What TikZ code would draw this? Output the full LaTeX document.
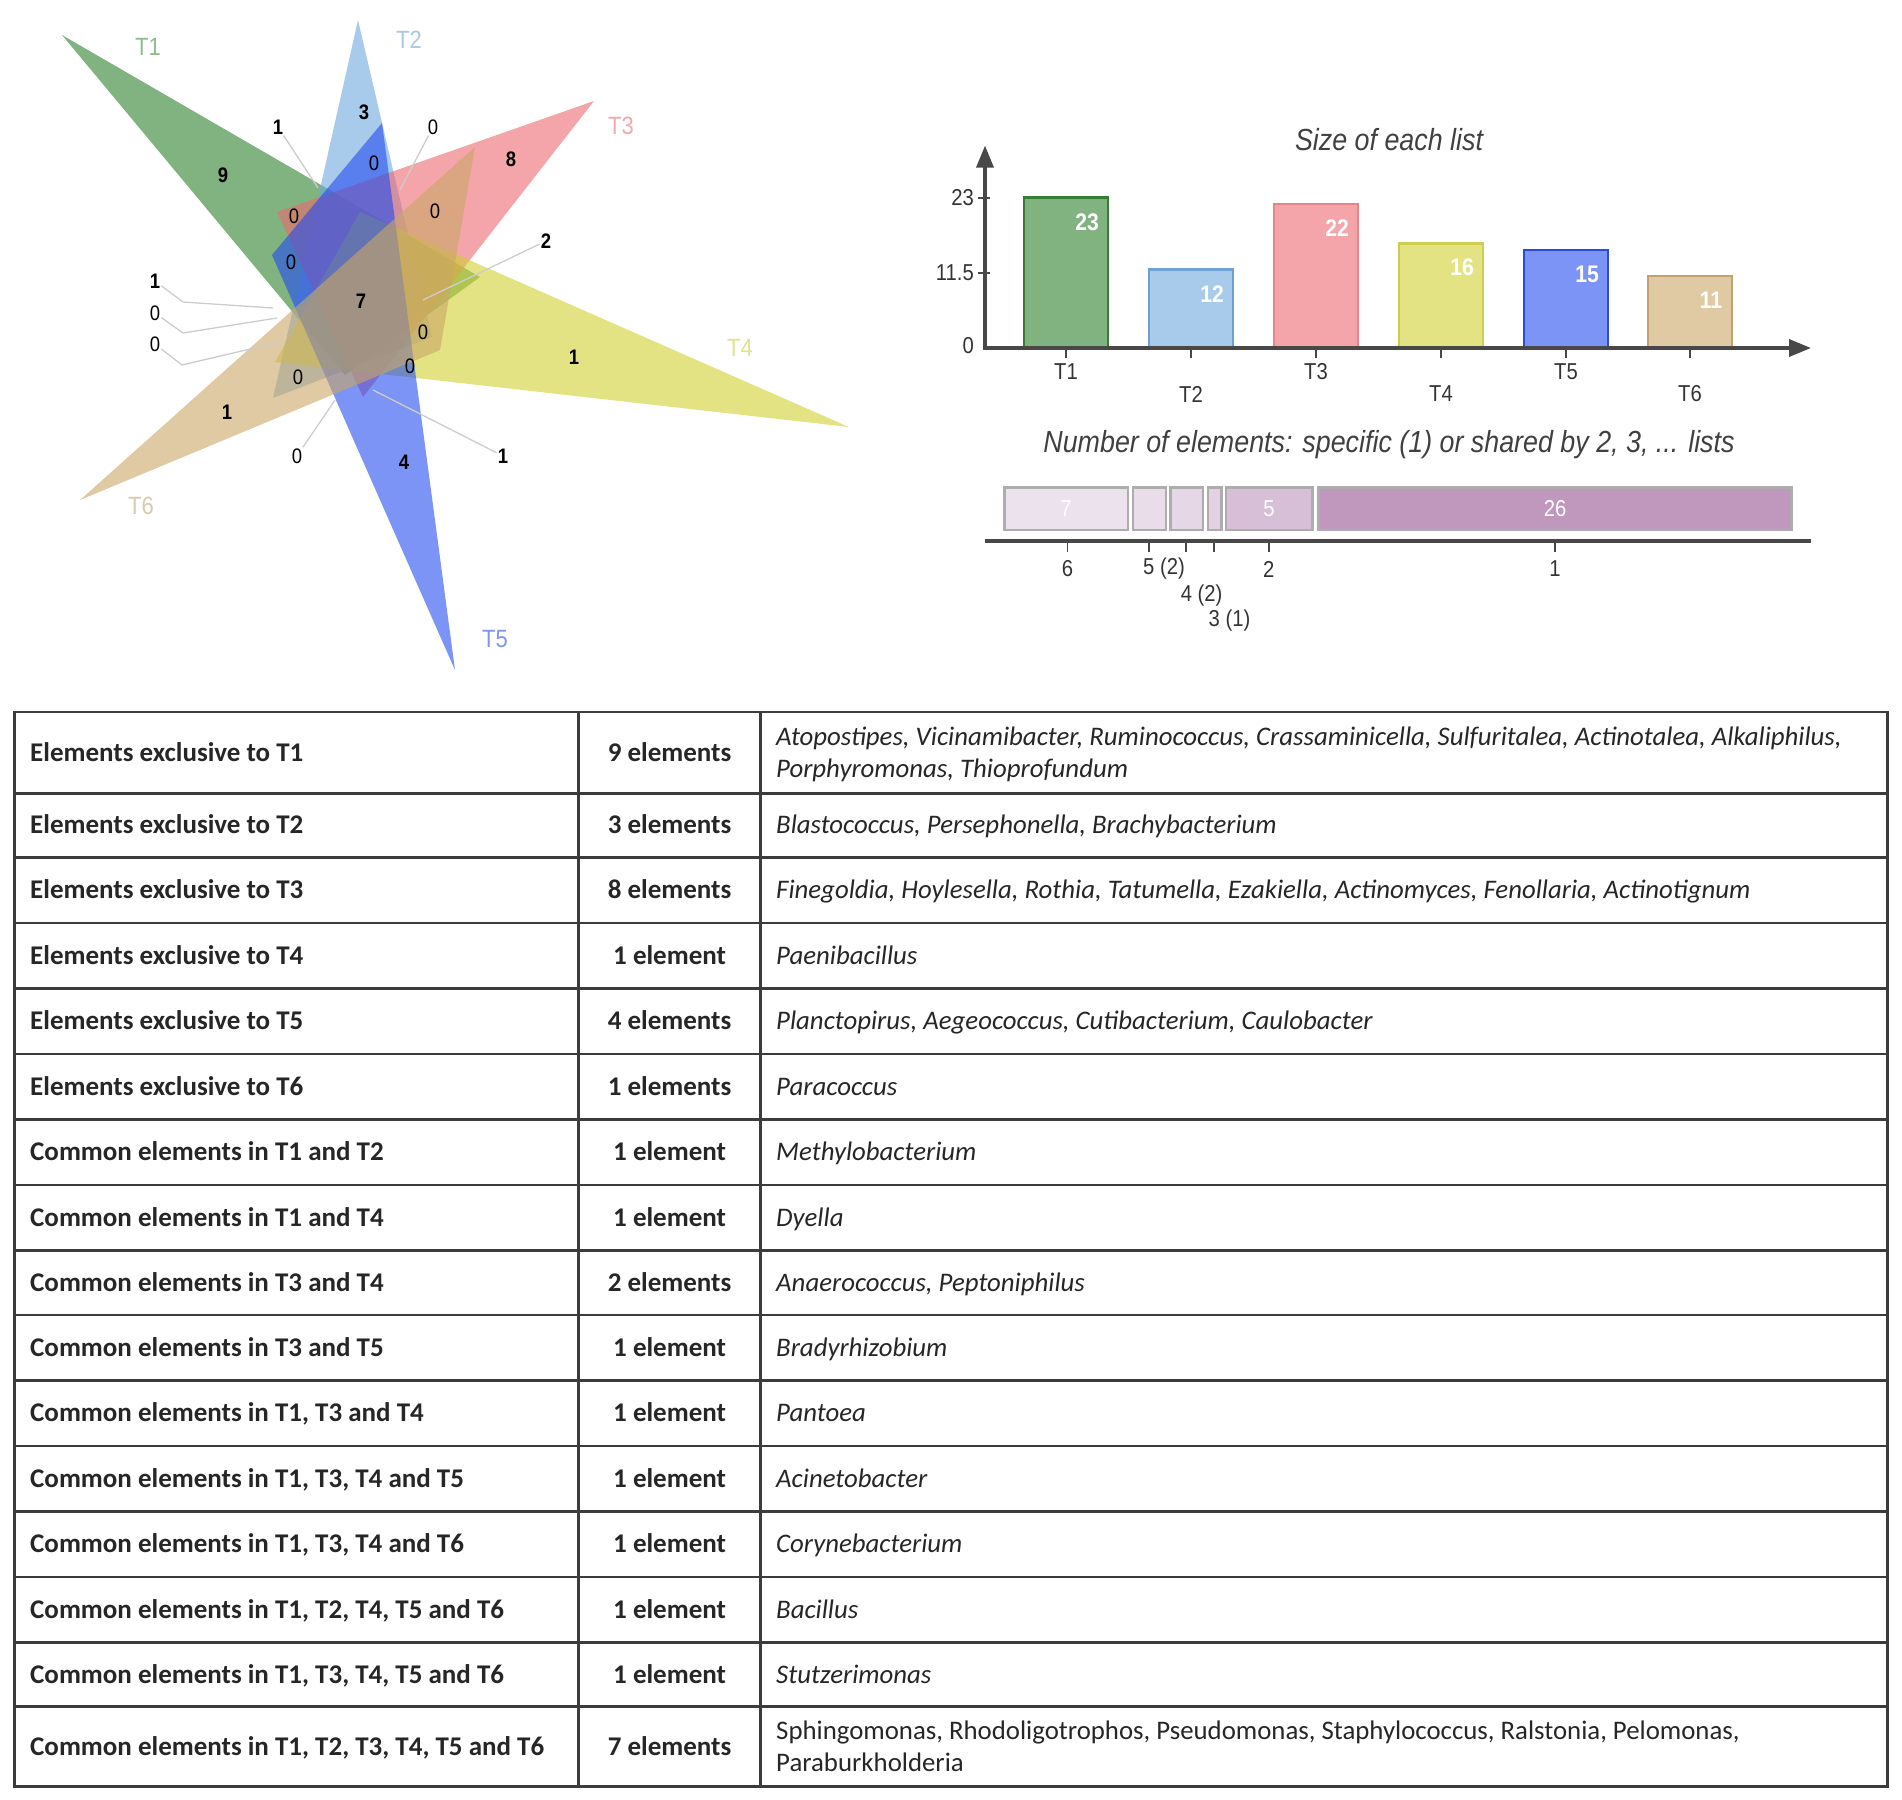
\documentclass[tikz,border=0pt]{standalone}
\usepackage{fontspec}
\setmainfont{Carlito}
\newfontfamily\cf[FakeStretch=0.88]{Liberation Sans}
\usetikzlibrary{arrows.meta}
\definecolor{c1}{RGB}{43,128,43}
\definecolor{c2}{RGB}{112,168,222}
\definecolor{c3}{RGB}{237,105,112}
\definecolor{c4}{RGB}{208,208,50}
\definecolor{c5}{RGB}{35,77,238}
\definecolor{c6}{RGB}{202,167,103}
\definecolor{b1}{RGB}{128,179,128}\definecolor{d1}{RGB}{55,125,55}
\definecolor{b2}{RGB}{169,203,235}\definecolor{d2}{RGB}{110,160,210}
\definecolor{b3}{RGB}{244,165,169}\definecolor{d3}{RGB}{235,130,138}
\definecolor{b4}{RGB}{227,227,132}\definecolor{d4}{RGB}{205,205,80}
\definecolor{b5}{RGB}{123,148,245}\definecolor{d5}{RGB}{40,75,230}
\definecolor{b6}{RGB}{223,202,164}\definecolor{d6}{RGB}{195,160,110}
\definecolor{l1}{RGB}{140,190,140}
\definecolor{l2}{RGB}{170,200,232}
\definecolor{l3}{RGB}{242,168,174}
\definecolor{l4}{RGB}{226,226,140}
\definecolor{l5}{RGB}{130,150,232}
\definecolor{l6}{RGB}{218,202,172}
\definecolor{s1}{RGB}{236,226,238}
\definecolor{s2}{RGB}{233,221,233}
\definecolor{s3}{RGB}{230,215,230}
\definecolor{s4}{RGB}{227,210,227}
\definecolor{s5}{RGB}{215,191,215}
\definecolor{s6}{RGB}{192,151,189}
\definecolor{tgray}{RGB}{60,60,60}
\definecolor{axgray}{RGB}{72,72,72}
\newcommand\trow[5]{%
  \node[c1txt] (r#1a) at (30,#2+8.5) {#3};
  \node[c2txt] (r#1b) at (669.6,#2+8.5) {#4};
  \node[c3txt] (r#1c) at (776,#2+8.5) {#5};}
\begin{document}
\begin{tikzpicture}[x=1pt,y=-1pt,
  tline/.style={line width=2.5pt,draw=tgray},
  c1txt/.style={anchor=base west,inner sep=0pt,text=black!85,font=\fontsize{27}{31}\selectfont\bfseries},
  c2txt/.style={anchor=base,inner sep=0pt,text=black!85,font=\fontsize{27}{31}\selectfont\bfseries},
  c3txt/.style={anchor=base west,inner sep=0pt,text=black!85,font=\fontsize{26.8}{31}\selectfont\itshape},
  c3up/.style={anchor=base west,inner sep=0pt,text=black!85,font=\fontsize{26.8}{31}\selectfont},
  tri/.style={fill opacity=0.6},
  vl/.style={inner sep=1pt,font=\cf\fontsize{21}{21}\selectfont\bfseries},
  vz/.style={inner sep=1pt,font=\cf\fontsize{21}{21}\selectfont},
  setl/.style={inner sep=1pt,font=\cf\fontsize{25}{25}\selectfont},
  leader/.style={draw=black!20,line width=1.3pt},
  axis/.style={draw=axgray,line width=3.5pt},
  tick/.style={draw=axgray,line width=1.8pt},
  axl/.style={inner sep=1pt,text=black!80,font=\cf\fontsize{23}{23}\selectfont},
  vall/.style={inner sep=1pt,text=white,font=\cf\fontsize{24}{24}\selectfont\bfseries},
  ctitle/.style={inner sep=1pt,text=black!75,font=\cf\fontsize{30.5}{30.5}\selectfont\itshape},
  seg/.style={draw=black!32,line width=2.5pt}
]
\useasboundingbox (0,0) rectangle (1902,1799);

% ---------------- Venn triangles ----------------
\fill[tri,c1] (62,35) -- (480,277) -- (345,375) -- cycle;
\fill[tri,c2] (358,20) -- (273,398) -- (432,337) -- cycle;
\fill[tri,c3] (594,101) -- (277,212) -- (363,397) -- cycle;
\fill[tri,c4] (849,427) -- (360,212) -- (275,362) -- cycle;
\fill[tri,c5] (455,670) -- (382,123) -- (272,255) -- cycle;
\fill[tri,c6] (80,500) -- (475,147) -- (440,350) -- cycle;

% set labels
\node[setl,text=l1] (T1) at (148,47) {T1};
\node[setl,text=l2] (T2) at (409,40) {T2};
\node[setl,text=l3] (T3) at (621,126) {T3};
\node[setl,text=l4] (T4) at (740,348) {T4};
\node[setl,text=l5] (T5) at (495,639) {T5};
\node[setl,text=l6] (T6) at (141,506) {T6};

% region labels
\node[vl] (v9) at (223,175) {9};
\node[vl] (v3) at (364,112) {3};
\node[vl] (va) at (278,127) {1};
\node[vz] (vb) at (433,127) {0};
\node[vl] (v8) at (511,159) {8};
\node[vz] (vc) at (374,163) {0};
\node[vz] (vd) at (294,216) {0};
\node[vz] (ve) at (435,211) {0};
\node[vl] (v2) at (546,241) {2};
\node[vz] (vf) at (291,262) {0};
\node[vl] (vg) at (155,281) {1};
\node[vl] (v7) at (361,301) {7};
\node[vz] (vh) at (155,313) {0};
\node[vz] (vi) at (423,332) {0};
\node[vz] (vj) at (155,344) {0};
\node[vl] (vk) at (574,357) {1};
\node[vz] (vm) at (410,366) {0};
\node[vz] (vn) at (298,377) {0};
\node[vl] (vo) at (227,412) {1};
\node[vz] (vp) at (297,456) {0};
\node[vl] (v4) at (404,462) {4};
\node[vl] (vq) at (503,456) {1};

% leader lines
\coordinate (pa) at (318,188);
\coordinate (pb) at (400,190);
\coordinate (p2) at (423,300);
\coordinate (qg) at (183,302); \coordinate (pg) at (273,308);
\coordinate (qh) at (183,333); \coordinate (ph) at (277,318);
\coordinate (qj) at (182,365); \coordinate (pj) at (280,342);
\coordinate (pp) at (335,400);
\coordinate (pq) at (373,390);
\draw[leader] (va) -- (pa);
\draw[leader] (vb) -- (pb);
\draw[leader] (v2) -- (p2);
\draw[leader] (vg) -- (qg) -- (pg);
\draw[leader] (vh) -- (qh) -- (ph);
\draw[leader] (vj) -- (qj) -- (pj);
\draw[leader] (vp) -- (pp);
\draw[leader] (vq) -- (pq);

% ---------------- Size of each list ----------------
\node[ctitle] (title1) at (1389,139.5) {Size of each list};
\draw[fill=b1,draw=d1,line width=2.5pt] (1024,348) rectangle (1108,197.7);
\draw[fill=b2,draw=d2,line width=2.5pt] (1149,348) rectangle (1233,269.6);
\draw[fill=b3,draw=d3,line width=2.5pt] (1274,348) rectangle (1358,204.2);
\draw[fill=b4,draw=d4,line width=2.5pt] (1399,348) rectangle (1483,243.4);
\draw[fill=b5,draw=d5,line width=2.5pt] (1524,348) rectangle (1608,250);
\draw[fill=b6,draw=d6,line width=2.5pt] (1648,348) rectangle (1732,276.1);
\node[vall] (n1) at (1087,222) {23};
\node[vall] (n2) at (1212,294) {12};
\node[vall] (n3) at (1337,228) {22};
\node[vall] (n4) at (1462,267) {16};
\node[vall] (n5) at (1587,274) {15};
\node[vall] (n6) at (1711,300) {11};
\draw[axis,-{Triangle[length=22pt,width=17pt]}] (985,350) -- (985,145.6);
\draw[axis,-{Triangle[length=22pt,width=17pt]}] (983,348) -- (1811,348);
\draw[tick] (978,197.7) -- (990,197.7);
\draw[tick] (978,272.8) -- (990,272.8);
\foreach \cx in {1066,1191,1316,1441,1566,1690} \draw[tick] (\cx,349) -- (\cx,358);
\node[axl,anchor=east] (y23) at (975,197.7) {23};
\node[axl,anchor=east] (y115) at (975,272.8) {11.5};
\node[axl,anchor=east] (y0) at (975,346) {0};
\node[axl] (x1) at (1066,372) {T1};
\node[axl] (x2) at (1191,394) {T2};
\node[axl] (x3) at (1316,372) {T3};
\node[axl] (x4) at (1441,394) {T4};
\node[axl] (x5) at (1566,372) {T5};
\node[axl] (x6) at (1690,394) {T6};

% ---------------- Number of elements ----------------
\node[ctitle] (title2) at (1389,445) {Number of elements: specific (1) or shared by 2, 3, ... lists};
\draw[seg,fill=s1] (1004.4,487.6) rectangle (1128,530);
\draw[seg,fill=s2] (1133,487.6) rectangle (1166,530);
\draw[seg,fill=s3] (1170.5,487.6) rectangle (1203,530);
\draw[seg,fill=s4] (1208,487.6) rectangle (1221.5,530);
\draw[seg,fill=s5] (1226,487.6) rectangle (1312.5,530);
\draw[seg,fill=s6] (1318.5,487.6) rectangle (1791.6,530);
\node[vall,font=\cf\fontsize{23}{23}\selectfont] (g7) at (1066,509) {7};
\node[vall,font=\cf\fontsize{23}{23}\selectfont] (g5) at (1269,509) {5};
\node[vall,font=\cf\fontsize{23}{23}\selectfont] (g26) at (1555,509) {26};
\draw[axis] (985,541) -- (1811,541);
\foreach \cx in {1067.4,1148.7,1186.3,1214.2,1268.8,1555} \draw[tick] (\cx,542) -- (\cx,552);
\node[axl] (k6) at (1067.4,569) {6};
\node[axl,anchor=west] (k5) at (1142,569) {5 (2)};
\node[axl,anchor=west] (k4) at (1179.6,595.6) {4 (2)};
\node[axl,anchor=west] (k3) at (1207.5,621) {3 (1)};
\node[axl] (k2) at (1268.8,569) {2};
\node[axl] (k1) at (1555,569) {1};

% ---------------- Table ----------------
\draw[tline] (14.6,712) rectangle (1887.4,1786.7);
\draw[tline] (578.6,712) -- (578.6,1786.7);
\draw[tline] (760.6,712) -- (760.6,1786.7);
\foreach \ry in {793.3,857.6,923.1,988.6,1054.1,1119.6,1185.1,1250.6,1314.9,1380.4,1445.9,1511.4,1576.9,1642.4,1706.7}
  \draw[tline] (14.6,\ry) -- (1887.4,\ry);

\node[c1txt] (r1a) at (30,761.15) {Elements exclusive to T1};
\node[c2txt] (r1b) at (669.6,761.15) {9 elements};
\node[c3txt] (r1c) at (776,745) {Atopostipes, Vicinamibacter, Ruminococcus, Crassaminicella, Sulfuritalea, Actinotalea, Alkaliphilus,};
\node[c3txt] (r1d) at (776,777) {Porphyromonas, Thioprofundum};
\trow{2}{825.45}{Elements exclusive to T2}{3 elements}{Blastococcus, Persephonella, Brachybacterium}
\trow{3}{890.35}{Elements exclusive to T3}{8 elements}{Finegoldia, Hoylesella, Rothia, Tatumella, Ezakiella, Actinomyces, Fenollaria, Actinotignum}
\trow{4}{955.85}{Elements exclusive to T4}{1 element}{Paenibacillus}
\trow{5}{1021.35}{Elements exclusive to T5}{4 elements}{Planctopirus, Aegeococcus, Cutibacterium, Caulobacter}
\trow{6}{1086.85}{Elements exclusive to T6}{1 elements}{Paracoccus}
\trow{7}{1152.35}{Common elements in T1 and T2}{1 element}{Methylobacterium}
\trow{8}{1217.85}{Common elements in T1 and T4}{1 element}{Dyella}
\trow{9}{1282.75}{Common elements in T3 and T4}{2 elements}{Anaerococcus, Peptoniphilus}
\trow{10}{1347.65}{Common elements in T3 and T5}{1 element}{Bradyrhizobium}
\trow{11}{1413.15}{Common elements in T1, T3 and T4}{1 element}{Pantoea}
\trow{12}{1478.65}{Common elements in T1, T3, T4 and T5}{1 element}{Acinetobacter}
\trow{13}{1544.15}{Common elements in T1, T3, T4 and T6}{1 element}{Corynebacterium}
\trow{14}{1609.65}{Common elements in T1, T2, T4, T5 and T6}{1 element}{Bacillus}
\trow{15}{1674.55}{Common elements in T1, T3, T4, T5 and T6}{1 element}{Stutzerimonas}
\node[c1txt] (r16a) at (30,1755.2) {Common elements in T1, T2, T3, T4, T5 and T6};
\node[c2txt] (r16b) at (669.6,1755.2) {7 elements};
\node[c3up] (r16c) at (776,1739.5) {Sphingomonas, Rhodoligotrophos, Pseudomonas, Staphylococcus, Ralstonia, Pelomonas,};
\node[c3up] (r16d) at (776,1771) {Paraburkholderia};
\end{tikzpicture}
\end{document}
